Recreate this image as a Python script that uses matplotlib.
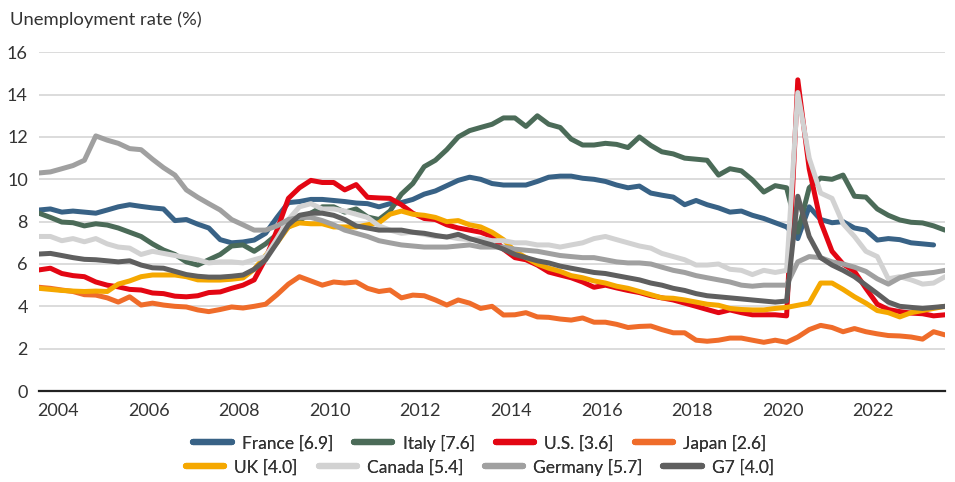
import matplotlib
matplotlib.use("Agg")
import matplotlib.pyplot as plt
import matplotlib.dates as mdates
import numpy as np
import pandas as pd
from matplotlib.lines import Line2D

plt.rcParams["font.family"] = ["Lato", "DejaVu Sans"]

# quarterly readings, Aug 2003 .. Aug 2023
dates = pd.date_range("2003-08-01", periods=81, freq="3MS")

france = [8.55, 8.6, 8.45, 8.5, 8.45, 8.4, 8.55, 8.7, 8.8, 8.72,
          8.65, 8.6, 8.05, 8.1, 7.88, 7.7, 7.15, 7.0, 7.04, 7.13,
          7.45, 8.2, 8.9, 8.95, 9.05, 9.05, 9.0, 8.95, 8.88, 8.85,
          8.7, 8.85, 8.9, 9.05, 9.3, 9.45, 9.7, 9.95, 10.1, 10.0,
          9.8, 9.73, 9.73, 9.73, 9.9, 10.1, 10.15, 10.15, 10.05, 10.0,
          9.9, 9.73, 9.6, 9.68, 9.35, 9.25, 9.16, 8.8, 9.0, 8.8,
          8.65, 8.45, 8.5, 8.3, 8.15, 7.95, 7.75, 7.2, 8.7, 8.1,
          7.95, 8.0, 7.7, 7.6, 7.13, 7.2, 7.15, 7.0, 6.95, 6.9,
          np.nan]
italy = [8.4, 8.2, 7.98, 7.95, 7.8, 7.9, 7.84, 7.7, 7.5, 7.3,
         6.95, 6.66, 6.45, 6.1, 5.95, 6.2, 6.45, 6.85, 6.9, 6.6,
         6.95, 7.4, 7.75, 8.05, 8.4, 8.7, 8.7, 8.45, 8.6, 8.22,
         8.1, 8.5, 9.3, 9.8, 10.6, 10.9, 11.4, 12.0, 12.3, 12.45,
         12.6, 12.9, 12.9, 12.5, 13.0, 12.6, 12.45, 11.9, 11.62, 11.62,
         11.7, 11.65, 11.5, 12.0, 11.6, 11.3, 11.2, 11.0, 10.95, 10.9,
         10.2, 10.5, 10.4, 9.97, 9.4, 9.7, 9.6, 7.5, 9.6, 10.06,
         10.0, 10.2, 9.2, 9.16, 8.6, 8.3, 8.08, 7.97, 7.94, 7.8,
         7.6]
us = [5.72, 5.8, 5.55, 5.45, 5.4, 5.15, 5.0, 4.92, 4.8, 4.77,
      4.63, 4.6, 4.48, 4.45, 4.5, 4.65, 4.68, 4.85, 5.0, 5.25,
      6.25, 7.6, 9.1, 9.6, 9.95, 9.85, 9.85, 9.5, 9.75, 9.15,
      9.12, 9.1, 8.8, 8.4, 8.15, 8.1, 7.85, 7.7, 7.6, 7.5,
      7.3, 6.7, 6.3, 6.2, 5.95, 5.62, 5.48, 5.35, 5.15, 4.9,
      5.0, 4.87, 4.75, 4.65, 4.5, 4.4, 4.3, 4.15, 4.0, 3.85,
      3.7, 3.83, 3.7, 3.6, 3.6, 3.6, 3.55, 14.7, 10.5, 8.0,
      6.6, 6.0, 5.65, 4.85, 4.1, 3.85, 3.75, 3.68, 3.65, 3.55,
      3.6]
japan = [4.9, 4.85, 4.77, 4.7, 4.55, 4.53, 4.4, 4.2, 4.45, 4.06,
         4.15, 4.06, 4.0, 3.97, 3.83, 3.75, 3.85, 3.97, 3.92, 4.0,
         4.1, 4.55, 5.05, 5.4, 5.2, 5.0, 5.15, 5.1, 5.15, 4.85,
         4.7, 4.77, 4.4, 4.53, 4.5, 4.3, 4.06, 4.3, 4.15, 3.9,
         4.0, 3.59, 3.6, 3.7, 3.5, 3.48, 3.4, 3.35, 3.45, 3.25,
         3.25, 3.15, 3.0, 3.05, 3.07, 2.9, 2.75, 2.75, 2.4, 2.35,
         2.4, 2.5, 2.5, 2.4, 2.3, 2.4, 2.3, 2.55, 2.9, 3.1,
         3.0, 2.8, 2.95, 2.8, 2.7, 2.62, 2.6, 2.55, 2.45, 2.8,
         2.65]
uk = [4.85, 4.8, 4.75, 4.72, 4.7, 4.72, 4.7, 5.05, 5.2, 5.4,
      5.48, 5.48, 5.48, 5.4, 5.25, 5.24, 5.24, 5.28, 5.34, 5.75,
      6.4, 7.0, 7.75, 7.94, 7.9, 7.9, 7.75, 7.75, 7.75, 7.85,
      7.95, 8.35, 8.5, 8.35, 8.3, 8.2, 8.0, 8.05, 7.85, 7.75,
      7.5, 7.15, 6.6, 6.3, 6.0, 5.8, 5.65, 5.45, 5.35, 5.2,
      5.1, 4.95, 4.85, 4.7, 4.55, 4.4, 4.38, 4.3, 4.2, 4.1,
      4.05, 3.9, 3.85, 3.83, 3.83, 3.9, 3.95, 4.05, 4.15, 5.1,
      5.1, 4.8, 4.45, 4.15, 3.8, 3.7, 3.5, 3.7, 3.8, 3.9,
      4.0]
canada = [7.3, 7.3, 7.1, 7.2, 7.05, 7.2, 6.95, 6.8, 6.75, 6.45,
          6.6, 6.5, 6.4, 6.3, 6.2, 6.05, 6.1, 6.1, 6.05, 6.2,
          6.35, 7.2, 8.1, 8.7, 8.85, 8.6, 8.6, 8.5, 8.35, 8.2,
          7.8, 7.6, 7.45, 7.5, 7.4, 7.3, 7.3, 7.2, 7.15, 7.2,
          7.1, 7.1, 7.0, 7.0, 6.9, 6.9, 6.8, 6.9, 7.0, 7.2,
          7.3, 7.15, 7.0, 6.85, 6.75, 6.5, 6.35, 6.2, 5.95, 5.95,
          6.0, 5.75, 5.7, 5.5, 5.7, 5.6, 5.7, 14.1, 11.0, 9.35,
          9.1, 7.9, 7.3, 6.6, 6.35, 5.3, 5.4, 5.25, 5.05, 5.1,
          5.4]
germany = [10.3, 10.35, 10.5, 10.65, 10.9, 12.05, 11.85, 11.7, 11.45, 11.4,
           10.95, 10.55, 10.2, 9.5, 9.15, 8.85, 8.55, 8.1, 7.85, 7.6,
           7.6, 7.8, 8.1, 8.2, 8.2, 8.05, 7.85, 7.6, 7.45, 7.3,
           7.1, 7.0, 6.9, 6.85, 6.8, 6.8, 6.8, 6.85, 6.9, 6.8,
           6.8, 6.8, 6.7, 6.65, 6.6, 6.5, 6.4, 6.35, 6.3, 6.3,
           6.2, 6.1, 6.05, 6.05, 6.0, 5.85, 5.7, 5.6, 5.45, 5.35,
           5.25, 5.15, 5.0, 4.95, 5.0, 5.0, 5.0, 6.1, 6.35, 6.3,
           6.1, 6.0, 5.85, 5.65, 5.3, 5.05, 5.35, 5.5, 5.55, 5.6,
           5.7]
g7 = [6.47, 6.5, 6.4, 6.3, 6.22, 6.2, 6.15, 6.1, 6.15, 5.95,
      5.82, 5.8, 5.65, 5.5, 5.42, 5.38, 5.38, 5.42, 5.48, 5.75,
      6.2, 7.0, 7.85, 8.3, 8.4, 8.4, 8.3, 8.1, 7.8, 7.7,
      7.6, 7.6, 7.6, 7.5, 7.45, 7.35, 7.27, 7.4, 7.2, 7.05,
      6.9, 6.7, 6.45, 6.3, 6.15, 6.05, 5.9, 5.8, 5.7, 5.6,
      5.55, 5.45, 5.35, 5.25, 5.1, 5.0, 4.85, 4.75, 4.6, 4.5,
      4.45, 4.4, 4.35, 4.3, 4.25, 4.2, 4.25, 9.2, 7.3, 6.3,
      5.95, 5.7, 5.4, 5.0, 4.6, 4.2, 4.0, 3.95, 3.9, 3.95,
      4.0]

names = ["France [6.9]", "Italy [7.6]", "U.S. [3.6]", "Japan [2.6]",
         "UK [4.0]", "Canada [5.4]", "Germany [5.7]", "G7 [4.0]"]
colors = ["#386286", "#4b6b58", "#e30613", "#ef6c2a",
          "#f5a800", "#d2d2d2", "#a0a0a0", "#5f5f5f"]
series = [france, italy, us, japan, uk, canada, germany, g7]


def plot_unemployment():
    """draw the G7 unemployment chart"""
    fig = plt.figure(figsize=(9.55, 4.82), dpi=100)
    ax = fig.add_axes([39 / 955, 1 - 391 / 482, 906 / 955, 338.7 / 482])

    for values, color in zip(series, colors):
        ax.plot(dates, values, color=color, lw=3.6,
                solid_joinstyle="round", solid_capstyle="round")

    ax.set_ylim(0, 16)
    ax.set_yticks(range(0, 17, 2))
    ax.set_xlim(dates[0], dates[-1])
    ax.xaxis.set_major_locator(mdates.YearLocator(2))
    ax.xaxis.set_major_formatter(mdates.DateFormatter("%Y"))

    ax.grid(axis="y", color="#d9d9d9", lw=1.3)
    ax.set_axisbelow(True)
    for side in ["left", "right", "top"]:
        ax.spines[side].set_visible(False)
    ax.spines["bottom"].set_color("#222222")
    ax.spines["bottom"].set_linewidth(1.6)
    ax.tick_params(length=0, labelsize=13, colors="#333333")
    ax.tick_params(axis="y", pad=8)
    ax.tick_params(axis="x", pad=9)

    fig.text(10 / 955, 1 - 20 / 482, "Unemployment rate (%)",
             fontsize=13.3, color="#333333", va="center", ha="left")

    handles = [Line2D([], [], color=c, lw=4.5, solid_capstyle="round")
               for c in colors]
    for row, y in [(0, 443), (1, 467)]:
        leg = fig.legend(handles[row * 4:row * 4 + 4], names[row * 4:row * 4 + 4],
                         loc="center", bbox_to_anchor=(480 / 955, 1 - y / 482),
                         ncol=4, frameon=False, fontsize=12.5,
                         handlelength=2.2, handletextpad=0.6,
                         columnspacing=1.2, borderaxespad=0, borderpad=0)
        for t in leg.get_texts():
            t.set_color("#333333")
        fig.add_artist(leg)

    fig.savefig("out.png", dpi=100)


plot_unemployment()
